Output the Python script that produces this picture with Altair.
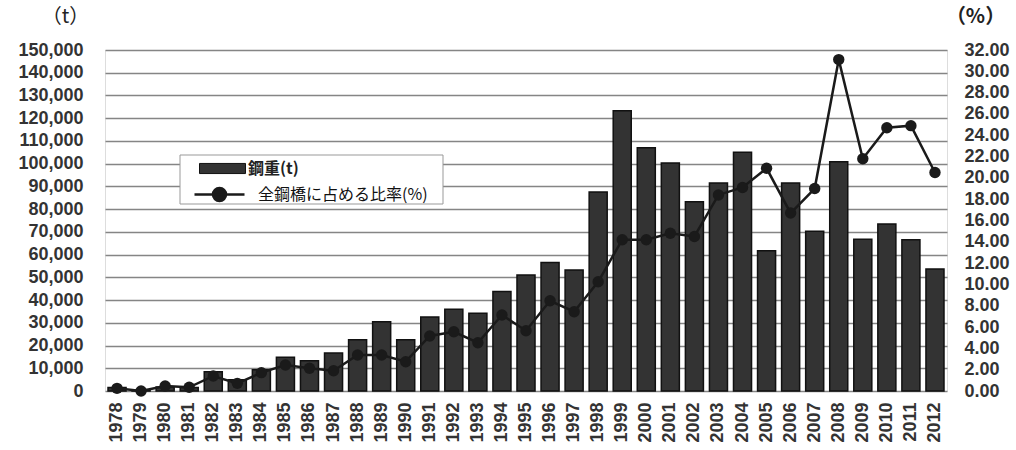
import altair as alt
import pandas as pd

years = [str(y) for y in range(1978, 2013)]
weight_t = [1500, 300, 1800, 1500, 8500, 5000, 9300, 14800, 13300, 16700,
            22500, 30500, 22500, 32500, 36000, 34200, 43800, 51000, 56500, 53200,
            87500, 123300, 107000, 100300, 83300, 91500, 105000, 61700, 91500, 70300,
            100800, 66700, 73500, 66500, 53700]
ratio_pct = [0.25, 0.0, 0.47, 0.35, 1.41, 0.72, 1.72, 2.44, 2.13, 1.9,
             3.38, 3.38, 2.75, 5.16, 5.56, 4.53, 7.13, 5.66, 8.47, 7.44,
             10.25, 14.2, 14.2, 14.8, 14.5, 18.4, 19.1, 20.9, 16.7, 19.0,
             31.1, 21.8, 24.7, 24.9, 20.5]
bar_name = "鋼重(t)"
line_name = "全鋼橋に占める比率(%)"
left_ticks = list(range(0, 150001, 10000))
right_ticks = list(range(0, 33, 2))

df = pd.DataFrame({
    "year": years,
    "weight": weight_t,
    "ratio": ratio_pct,
    "bs": [bar_name] * len(years),
    "ls": [line_name] * len(years),
})

FONT = "Liberation Sans"
JP = "Noto Sans CJK JP"

x_enc = alt.X("year:O", title=None,
              scale=alt.Scale(paddingInner=0.25, paddingOuter=0.125),
              axis=alt.Axis(labelAngle=-90, labelFontSize=18, labelFontWeight="bold",
                            labelColor="#333", ticks=False, labelPadding=11,
                            domain=False, labelFont=FONT))

base = alt.Chart(df)

bars = base.mark_bar(stroke="#111", strokeWidth=1.5).encode(
    x=x_enc,
    y=alt.Y("weight:Q", scale=alt.Scale(domain=[0, 150000], nice=False),
            axis=alt.Axis(title="（t）", titleAngle=0, titleX=-40, titleY=-34,
                          titleAlign="center", titleBaseline="middle",
                          titleFont=JP, titleFontSize=20, titleFontWeight="normal",
                          titleColor="#222",
                          values=left_ticks, format=",d", labelFontSize=18,
                          labelFontWeight="bold", labelColor="#333", labelFont=FONT,
                          ticks=False, labelPadding=22, domain=False,
                          grid=True, gridColor="#858585", gridWidth=1.4)),
    fill=alt.Fill("bs:N", scale=alt.Scale(range=["#333333"]),
                  legend=alt.Legend(title=None, orient="none", legendX=94, legendY=95,
                                    symbolType="M-1,-0.22L1,-0.22L1,0.22L-1,0.22Z",
                                    symbolSize=2116, symbolStrokeColor="#111",
                                    symbolStrokeWidth=1, labelFont=JP, labelFontSize=16,
                                    labelFontWeight="bold", labelOffset=2, padding=0,
                                    labelColor="#222", labelLimit=300)),
)

box = alt.Chart(pd.DataFrame({"k": [0]})).mark_rect(
    fill="white", stroke="#999", strokeWidth=1
).encode(x=alt.value(75), x2=alt.value(338), y=alt.value(105), y2=alt.value(154))

y_right = alt.Y("ratio:Q", scale=alt.Scale(domain=[0, 32], nice=False),
                axis=alt.Axis(title="（%）", orient="right", titleAngle=0, titleX=28,
                              titleY=-34, titleAlign="center", titleBaseline="middle",
                              titleFont=JP, titleFontSize=20, titleFontWeight="bold",
                              titleColor="#222",
                              values=right_ticks, format=".2f", labelFontSize=18,
                              labelFontWeight="bold", labelColor="#333", labelFont=FONT,
                              ticks=False, labelPadding=17, domain=False, grid=False))

line = base.mark_line(strokeWidth=2.5).encode(
    x=x_enc,
    y=y_right,
    stroke=alt.Stroke("ls:N", scale=alt.Scale(range=["#1a1a1a"]),
                      legend=alt.Legend(title=None, orient="none", legendX=88, legendY=118,
                                        symbolType="M-1,0L1,0M0.26,0A0.26,0.26 0 1,1 -0.26,0A0.26,0.26 0 1,1 0.26,0Z",
                                        symbolSize=2500, symbolFillColor="#1a1a1a",
                                        symbolStrokeWidth=2.5, labelFont=JP,
                                        labelFontSize=16, labelOffset=12, padding=0,
                                        labelColor="#111", labelLimit=300)),
)

points = base.mark_circle(size=130, color="#1a1a1a", opacity=1).encode(
    x=x_enc,
    y=y_right,
)

left_layer = alt.layer(bars, box)
right_layer = alt.layer(line, points)

chart = alt.layer(left_layer, right_layer).resolve_scale(y="independent").properties(
    width=842, height=341,
    autosize=alt.AutoSizeParams(type="none"),
    padding={"left": 105, "top": 50, "right": 69, "bottom": 59},
).configure_view(stroke="#111", strokeWidth=2).configure(font=FONT, background="white")

chart.save("out.html", embed_options={"renderer": "svg", "actions": False})
